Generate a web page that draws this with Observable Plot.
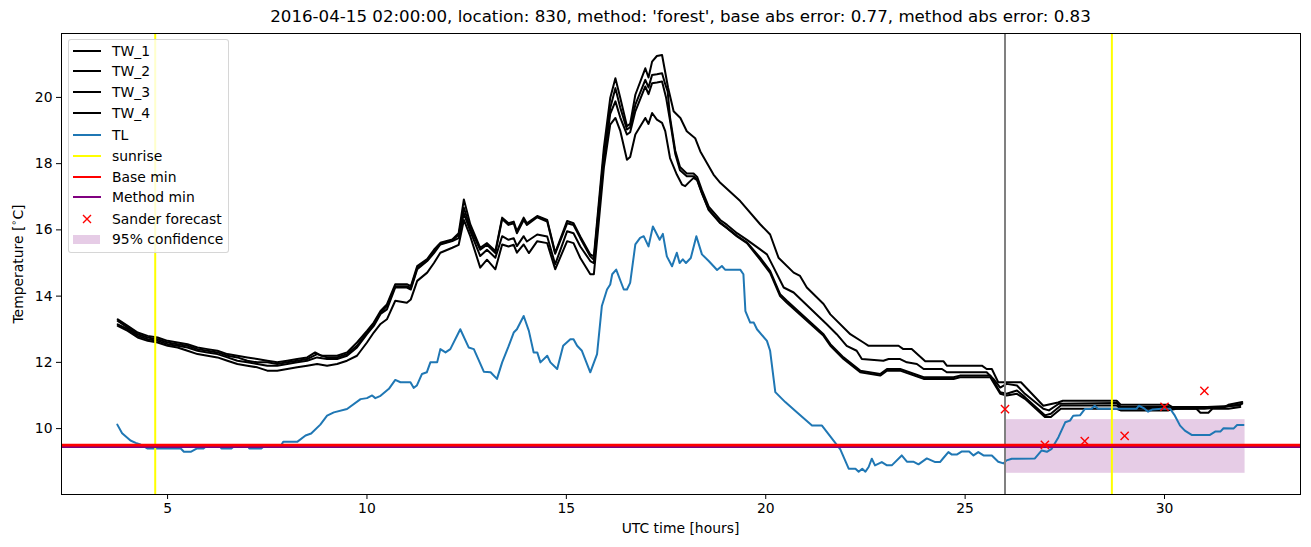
<!DOCTYPE html>
<html>
<head>
<meta charset="utf-8">
<script src="https://cdn.jsdelivr.net/npm/d3@7"></script>
<script src="https://cdn.jsdelivr.net/npm/@observablehq/plot@0.6"></script>
<style>
  html, body { margin: 0; padding: 0; background: white; }
  #wrap { position: relative; width: 1311px; height: 547px; font-family: 'DejaVu Sans', sans-serif; color: black; }
  #title { position: absolute; top: 7px; left: 61px; width: 1239px; text-align: center; font-size: 16.67px; line-height: 20px; white-space: nowrap; }
  #chart { position: absolute; top: 32px; left: 0; }
  #xlabel { position: absolute; top: 520px; left: 61px; width: 1239px; text-align: center; font-size: 13.9px; line-height: 17px; }
  #ylabel { position: absolute; left: 18px; top: 264px; transform: translate(-50%, -50%) rotate(-90deg); font-size: 13.9px; line-height: 17px; white-space: nowrap; }
  #ylabel sup { font-size: 9.7px; vertical-align: 6px; line-height: 0; }
  #legend { position: absolute; left: 68px; top: 39px; width: 161px; height: 214px; box-sizing: border-box; background: rgba(255,255,255,0.8); border: 1px solid rgba(204,204,204,0.8); border-radius: 3px; }
  .lg-text { position: absolute; left: 43px; font-size: 13.9px; line-height: 16px; white-space: nowrap; }
  .lg-line { position: absolute; left: 4px; width: 28px; height: 2px; }
</style>
</head>
<body>
<div id="wrap">
  <div id="title">2016-04-15 02:00:00, location: 830, method: 'forest', base abs error: 0.77, method abs error: 0.83</div>
  <div id="chart"></div>
  <div id="xlabel">UTC time [hours]</div>
  <div id="ylabel">Temperature [<sup>∘</sup>C]</div>
  <div id="legend"></div>
</div>
<script>
// ---------------- data ----------------
const xTicks = [5, 10, 15, 20, 25, 30];
const yTicks = [10, 12, 14, 16, 18, 20];

const sunriseTimes = [4.69, 28.68];
const forecastStart = 26.0;
const baseMin = 9.5;
const methodMin = 9.455;

const confStart = 26.0, confEnd = 32.02, confLow = 8.65, confHigh = 10.27;

const sanderTime = [26, 27, 28, 29, 30, 31];
const sanderTemp = [10.59, 9.51, 9.62, 9.78, 10.66, 11.14];

const tw1 = [[3.75,13.3],[4.0,13.1],[4.25,12.9],[4.5,12.8],[4.75,12.75],[5.0,12.65],[5.25,12.6],[5.5,12.55],[5.75,12.45],[6.0,12.4],[6.25,12.35],[6.5,12.25],[6.75,12.2],[7.0,12.15],[7.25,12.1],[7.5,12.05],[7.75,12.0],[8.0,12.05],[8.25,12.1],[8.5,12.15],[8.7,12.3],[8.85,12.2],[9.0,12.2],[9.25,12.2],[9.5,12.3],[9.75,12.6],[10.0,12.95],[10.17,13.2],[10.34,13.55],[10.5,13.75],[10.71,14.36],[11.0,14.36],[11.1,14.3],[11.26,14.91],[11.51,15.12],[11.68,15.4],[11.84,15.61],[12.14,15.71],[12.3,15.9],[12.43,16.92],[12.59,16.17],[12.84,15.46],[13.01,15.6],[13.22,15.36],[13.39,16.37],[13.55,16.2],[13.68,16.25],[13.76,15.96],[13.93,16.37],[14.01,16.2],[14.27,16.42],[14.52,16.3],[14.72,15.31],[15.02,16.27],[15.18,16.2],[15.35,15.8],[15.6,15.26],[15.69,15.2],[15.94,18.47],[16.1,19.98],[16.23,20.58],[16.35,20.0],[16.52,19.13],[16.6,19.2],[16.73,20.08],[16.98,20.88],[17.06,20.6],[17.15,21.08],[17.27,21.25],[17.4,21.28],[17.55,20.3],[17.69,19.58],[17.86,19.38],[18.02,18.98],[18.23,18.77],[18.36,18.37],[18.69,17.67],[18.86,17.42],[19.36,16.87],[19.86,16.17],[20.11,15.86],[20.32,15.16],[20.7,14.71],[20.86,14.61],[21.03,14.26],[21.45,13.76],[21.62,13.45],[22.12,12.85],[22.45,12.6],[22.58,12.5],[23.33,12.5],[23.45,12.4],[23.66,12.4],[24.0,12.03],[24.46,12.03],[24.54,11.9],[25.42,11.9],[25.54,11.8],[25.67,11.8],[25.83,11.4],[26.4,11.4],[26.96,10.69],[27.33,10.79],[27.45,10.84],[28.8,10.84],[28.9,10.72],[30.1,10.72],[30.2,10.65],[31.5,10.65],[31.6,10.72],[31.95,10.8]];

const tw2 = [[3.75,13.25],[4.0,13.05],[4.25,12.85],[4.5,12.75],[4.75,12.7],[5.0,12.6],[5.25,12.55],[5.5,12.5],[5.75,12.4],[6.0,12.35],[6.25,12.3],[6.5,12.2],[6.75,12.15],[7.0,12.05],[7.25,12.0],[7.5,12.0],[7.75,11.95],[8.0,12.0],[8.25,12.05],[8.5,12.1],[8.75,12.25],[9.0,12.15],[9.25,12.15],[9.5,12.25],[9.75,12.5],[10.0,12.9],[10.17,13.15],[10.34,13.5],[10.5,13.7],[10.71,14.3],[11.0,14.3],[11.1,14.25],[11.26,14.85],[11.51,15.08],[11.68,15.35],[11.84,15.58],[12.14,15.68],[12.3,15.85],[12.43,16.67],[12.59,16.05],[12.84,15.4],[13.01,15.55],[13.22,15.3],[13.39,16.33],[13.55,16.15],[13.68,16.2],[13.76,15.9],[13.93,16.3],[14.01,16.15],[14.27,16.38],[14.52,16.25],[14.72,15.28],[15.02,16.2],[15.18,16.15],[15.35,15.75],[15.6,15.2],[15.69,15.1],[15.94,18.27],[16.1,19.68],[16.23,20.28],[16.35,19.7],[16.52,19.03],[16.6,19.1],[16.73,19.78],[16.98,20.53],[17.06,20.3],[17.15,20.68],[17.27,20.7],[17.4,20.73],[17.48,20.4],[17.54,20.18],[17.6,19.4],[17.73,18.4],[17.85,17.9],[18.02,17.7],[18.19,17.7],[18.28,17.6],[18.4,17.2],[18.57,16.7],[18.86,16.3],[19.03,16.15],[19.28,15.9],[19.53,15.7],[19.86,15.41],[20.03,15.26],[20.2,14.86],[20.45,14.26],[20.7,14.11],[21.53,13.15],[21.78,12.85],[22.03,12.5],[22.28,12.35],[22.41,12.1],[22.95,12.05],[23.08,12.1],[23.37,12.1],[23.54,12.0],[23.79,11.95],[23.96,11.8],[24.42,11.8],[24.54,11.7],[25.54,11.7],[25.71,11.5],[25.88,11.24],[26.04,11.35],[26.3,11.3],[26.5,11.05],[26.96,10.6],[27.1,10.55],[27.35,10.75],[28.8,10.77],[28.9,10.65],[30.1,10.65],[30.3,10.6],[31.0,10.6],[31.5,10.65],[31.95,10.75]];

const tw3 = [[3.75,13.15],[4.0,13.0],[4.25,12.8],[4.5,12.7],[4.75,12.65],[5.0,12.55],[5.25,12.5],[5.5,12.45],[5.75,12.35],[6.0,12.3],[6.25,12.25],[6.5,12.15],[6.75,12.05],[7.0,12.0],[7.25,11.95],[7.5,11.9],[7.75,11.9],[8.0,11.95],[8.25,12.0],[8.5,12.05],[8.75,12.15],[9.0,12.1],[9.25,12.1],[9.5,12.2],[9.75,12.45],[10.0,12.85],[10.17,13.1],[10.34,13.46],[10.5,13.6],[10.71,14.26],[11.0,14.26],[11.1,14.2],[11.26,14.81],[11.51,15.06],[11.68,15.3],[11.84,15.56],[12.14,15.66],[12.3,15.75],[12.43,16.5],[12.59,15.96],[12.84,15.21],[13.01,15.4],[13.22,15.16],[13.39,15.81],[13.55,15.7],[13.68,15.75],[13.76,15.51],[13.93,15.81],[14.01,15.65],[14.27,15.86],[14.52,15.8],[14.72,14.96],[15.02,15.96],[15.18,15.9],[15.35,15.5],[15.6,15.06],[15.69,15.0],[15.94,18.1],[16.1,19.5],[16.23,19.88],[16.35,19.4],[16.52,18.88],[16.6,18.95],[16.73,19.58],[16.98,20.33],[17.06,20.1],[17.15,20.43],[17.27,20.45],[17.4,20.48],[17.5,20.0],[17.6,19.3],[17.73,18.3],[17.85,17.8],[18.02,17.62],[18.19,17.62],[18.28,17.52],[18.4,17.12],[18.57,16.62],[18.86,16.22],[19.03,16.06],[19.28,15.82],[19.53,15.62],[19.86,15.16],[20.11,14.76],[20.36,14.06],[20.53,13.86],[21.45,12.85],[21.62,12.55],[21.95,12.15],[22.37,11.75],[22.87,11.65],[23.04,11.8],[23.37,11.8],[23.96,11.55],[24.71,11.55],[24.87,11.6],[25.63,11.6],[25.88,11.1],[26.04,11.05],[26.3,11.15],[26.5,10.95],[27.0,10.4],[27.15,10.45],[27.4,10.7],[28.8,10.7],[28.9,10.6],[30.1,10.6],[31.9,10.7]];

const tw4 = [[3.75,13.1],[4.0,12.95],[4.25,12.75],[4.5,12.65],[4.75,12.6],[5.0,12.5],[5.25,12.45],[5.5,12.35],[5.75,12.25],[6.0,12.2],[6.25,12.15],[6.5,12.05],[6.75,11.95],[7.0,11.9],[7.25,11.85],[7.5,11.75],[7.75,11.75],[8.0,11.8],[8.25,11.85],[8.5,11.9],[8.75,11.95],[9.0,11.9],[9.25,11.95],[9.5,12.05],[9.75,12.2],[10.0,12.6],[10.17,12.9],[10.34,13.16],[10.5,13.3],[10.71,13.86],[11.0,13.8],[11.1,13.9],[11.26,14.46],[11.51,14.71],[11.68,15.0],[11.84,15.31],[12.14,15.46],[12.3,15.55],[12.43,16.3],[12.59,15.81],[12.84,14.86],[13.01,15.1],[13.22,14.81],[13.39,15.56],[13.55,15.5],[13.68,15.55],[13.76,15.31],[13.93,15.56],[14.06,15.3],[14.27,15.66],[14.52,15.6],[14.72,14.81],[15.02,15.66],[15.18,15.6],[15.35,15.15],[15.6,14.66],[15.69,14.66],[15.94,17.87],[16.1,19.18],[16.23,19.38],[16.35,19.0],[16.52,18.12],[16.6,18.2],[16.73,18.88],[16.98,19.38],[17.06,19.2],[17.15,19.53],[17.27,19.33],[17.4,19.23],[17.48,18.98],[17.6,18.17],[17.77,17.67],[17.9,17.37],[17.98,17.32],[18.06,17.42],[18.19,17.57],[18.28,17.5],[18.4,17.1],[18.57,16.6],[18.86,16.2],[19.03,16.05],[19.28,15.8],[19.53,15.6],[19.86,15.1],[20.11,14.7],[20.36,14.0],[20.53,13.8],[21.45,12.8],[21.62,12.5],[21.95,12.1],[22.37,11.7],[22.87,11.6],[23.04,11.75],[23.37,11.75],[23.96,11.5],[24.71,11.5],[24.87,11.55],[25.63,11.55],[25.88,11.05],[26.04,11.0],[26.3,11.05],[26.5,10.9],[27.0,10.35],[27.15,10.35],[27.4,10.6],[28.8,10.6],[28.9,10.55],[30.1,10.55],[30.3,10.6],[30.8,10.6],[30.9,10.48],[31.1,10.48],[31.2,10.6],[31.6,10.6],[31.9,10.65]];

const tl = [[3.74,10.12],[3.86,9.86],[4.07,9.64],[4.2,9.57],[4.32,9.52],[4.49,9.4],[5.33,9.4],[5.41,9.3],[5.58,9.3],[5.74,9.4],[5.9,9.4],[6.0,9.5],[6.3,9.5],[6.35,9.4],[6.6,9.4],[6.7,9.5],[7.0,9.5],[7.05,9.4],[7.35,9.4],[7.45,9.5],[7.85,9.5],[7.9,9.6],[8.25,9.6],[8.46,9.79],[8.6,9.85],[8.83,10.12],[9.0,10.39],[9.17,10.49],[9.5,10.59],[9.84,10.89],[10.0,10.92],[10.13,11.0],[10.21,10.92],[10.34,10.99],[10.55,11.2],[10.71,11.47],[10.84,11.4],[11.09,11.4],[11.17,11.23],[11.25,11.3],[11.38,11.65],[11.5,11.7],[11.59,12.0],[11.76,12.0],[11.84,12.4],[11.97,12.3],[12.09,12.4],[12.34,13.0],[12.55,12.45],[12.68,12.4],[12.93,11.72],[13.1,11.7],[13.26,11.5],[13.39,12.0],[13.55,12.48],[13.68,12.9],[13.76,13.0],[13.93,13.4],[14.06,12.95],[14.18,12.3],[14.27,12.3],[14.35,12.0],[14.52,12.2],[14.6,12.0],[14.77,11.8],[14.92,12.5],[15.1,12.7],[15.18,12.7],[15.27,12.5],[15.39,12.35],[15.6,11.7],[15.77,12.25],[15.89,13.7],[16.02,14.2],[16.1,14.35],[16.15,14.66],[16.25,14.8],[16.44,14.2],[16.52,14.2],[16.6,14.4],[16.73,15.56],[16.85,15.76],[16.94,15.81],[17.06,15.5],[17.17,16.1],[17.34,15.7],[17.42,15.88],[17.52,15.2],[17.65,14.9],[17.77,15.31],[17.84,15.0],[17.92,15.11],[18.0,15.0],[18.12,15.15],[18.26,15.81],[18.4,15.26],[18.57,15.06],[18.78,14.79],[18.9,14.91],[18.98,14.8],[19.36,14.8],[19.44,14.66],[19.49,13.55],[19.61,13.2],[19.7,13.2],[19.78,13.0],[20.03,12.65],[20.11,12.35],[20.24,11.1],[20.49,10.8],[20.78,10.49],[21.16,10.09],[21.41,10.09],[21.57,9.84],[21.7,9.64],[21.87,9.37],[22.08,8.79],[22.25,8.79],[22.33,8.7],[22.42,8.79],[22.5,8.7],[22.58,8.84],[22.66,9.09],[22.74,8.89],[22.91,8.99],[23.04,8.89],[23.16,8.89],[23.41,9.19],[23.54,9.0],[23.7,9.0],[23.83,8.92],[24.04,9.1],[24.25,8.99],[24.37,8.99],[24.46,9.12],[24.58,9.29],[24.66,9.22],[24.8,9.22],[24.92,9.31],[25.1,9.31],[25.21,9.19],[25.33,9.29],[25.46,9.19],[25.67,9.19],[25.83,9.0],[25.96,8.95],[26.04,9.04],[26.17,9.09],[26.75,9.1],[26.92,9.34],[27.05,9.3],[27.17,9.39],[27.34,9.74],[27.51,10.19],[27.63,10.24],[27.71,10.39],[27.88,10.4],[28.0,10.59],[28.17,10.6],[28.25,10.69],[28.33,10.6],[29.3,10.6],[29.36,10.69],[29.5,10.6],[29.59,10.51],[29.7,10.58],[29.93,10.6],[30.14,10.6],[30.26,10.39],[30.39,10.09],[30.51,9.94],[30.68,9.81],[31.14,9.81],[31.27,9.91],[31.4,9.91],[31.48,10.01],[31.73,10.0],[31.82,10.11],[31.98,10.11]];

const legendLabels = ["TW_1", "TW_2", "TW_3", "TW_4", "TL", "sunrise", "Base min", "Method min", "Sander forecast", "95% confidence"];

// ---------------- build ----------------
const twNames = ["TW_1", "TW_2", "TW_3", "TW_4"];
const twData = [tw1, tw2, tw3, tw4].flatMap((s, i) => s.map(([t, v]) => ({series: twNames[i], t, v})));
const tlData = tl.map(([t, v]) => ({t, v}));
const sanderData = sanderTime.map((t, i) => ({t, v: sanderTemp[i]}));
const band = [{x1: confStart, x2: confEnd, y1: confLow, y2: confHigh}];

const chart = Plot.plot({
  width: 1311,
  height: 515,
  marginLeft: 61,
  marginRight: 11,
  marginTop: 1,
  marginBottom: 53,
  x: {domain: [2.34, 33.41]},
  y: {domain: [8.01, 21.93]},
  style: {fontFamily: "'DejaVu Sans', sans-serif", fontSize: "13.9px", color: "black", background: "white", overflow: "visible"},
  marks: [
    Plot.rect(band, {x1: "x1", x2: "x2", y1: "y1", y2: "y2", fill: "purple", fillOpacity: 0.2}),
    Plot.line(twData, {x: "t", y: "v", z: "series", stroke: "black", strokeWidth: 2, strokeLinejoin: "round"}),
    Plot.line(tlData, {x: "t", y: "v", stroke: "#1f77b4", strokeWidth: 2, strokeLinejoin: "round"}),
    Plot.ruleX(sunriseTimes, {stroke: "#ffff00", strokeWidth: 2}),
    Plot.ruleX([forecastStart], {stroke: "grey", strokeWidth: 2}),
    Plot.ruleY([methodMin], {stroke: "purple", strokeWidth: 2.6}),
    Plot.ruleY([baseMin], {stroke: "red", strokeWidth: 2.6}),
    Plot.dot(sanderData, {x: "t", y: "v", symbol: "times", r: 3.8, stroke: "red", strokeWidth: 1.4}),
    Plot.axisX({ticks: xTicks, tickSize: 5, tickPadding: 4, label: null, tickFormat: d => String(d)}),
    Plot.axisY({ticks: yTicks, tickSize: 5, tickPadding: 4, label: null, tickFormat: d => String(d)}),
    Plot.frame({stroke: "black", strokeWidth: 1})
  ]
});
document.getElementById("chart").appendChild(chart);

// legend
const lg = document.getElementById("legend");
const rowY = [10.7, 31.3, 52.3, 73.3, 95, 115.7, 136.7, 157.3, 178.7, 199.3];
const handles = ["black", "black", "black", "black", "#1f77b4", "#ffff00", "red", "purple", "marker", "patch"];
legendLabels.forEach((lab, i) => {
  const y = rowY[i];
  const h = handles[i];
  if (h === "marker") {
    const s = document.createElementNS("http://www.w3.org/2000/svg", "svg");
    s.setAttribute("width", 12); s.setAttribute("height", 12);
    s.style.position = "absolute"; s.style.left = (18 - 6) + "px"; s.style.top = (y - 6) + "px";
    s.innerHTML = '<path d="M2,2L10,10M2,10L10,2" stroke="red" stroke-width="1.4" fill="none"/>';
    lg.appendChild(s);
  } else if (h === "patch") {
    const d = document.createElement("div");
    d.style.cssText = `position:absolute;left:4px;top:${y - 4.5}px;width:27px;height:9px;background:rgba(128,0,128,0.2);`;
    lg.appendChild(d);
  } else {
    const d = document.createElement("div");
    d.className = "lg-line";
    d.style.top = (y - 1) + "px";
    d.style.background = h;
    lg.appendChild(d);
  }
  const t = document.createElement("div");
  t.className = "lg-text";
  t.style.top = (y - 8) + "px";
  t.textContent = lab;
  lg.appendChild(t);
});
</script>
</body>
</html>
